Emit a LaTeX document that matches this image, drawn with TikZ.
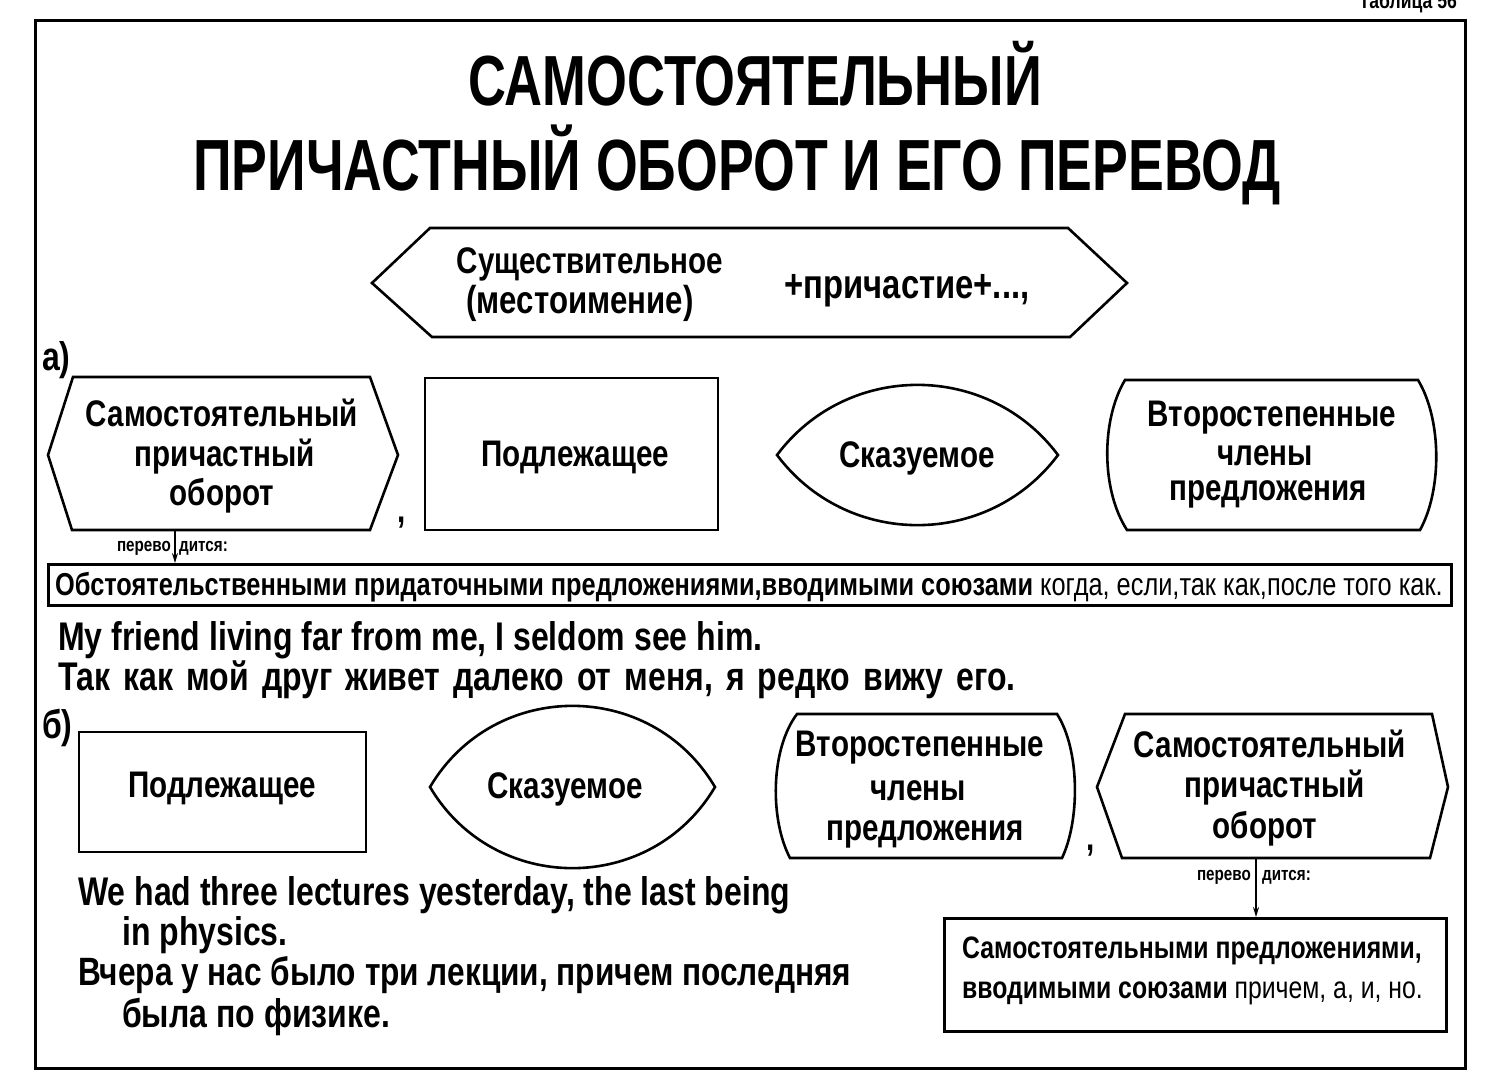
\documentclass[tikz,border=0pt]{standalone}
\usepackage{fontspec}
\setmainfont{Liberation Sans}[FakeStretch=0.8]
\newfontfamily\titlef{Liberation Sans}[FakeStretch=0.74]
\usetikzlibrary{arrows.meta}
\begin{document}
\begin{tikzpicture}[x=1pt,y=-1pt,
  shp/.style={line width=2.6pt, line join=miter},
  lbl/.style={anchor=base, inner sep=0pt, font=\fontsize{37}{40}\selectfont\bfseries},
  ex/.style={anchor=base west, inner sep=0pt, font=\fontsize{40}{42}\selectfont\bfseries},
  small/.style={anchor=base, inner sep=0pt, font=\fontsize{19}{20}\selectfont\bfseries},
  ttl/.style={anchor=base, inner sep=0pt, font=\fontsize{71}{72}\titlef\bfseries},
  boxt/.style={anchor=base west, inner sep=0pt, font=\fontsize{31.7}{34}\selectfont\bfseries},
  rboxt/.style={anchor=base west, inner sep=0pt, font=\fontsize{31}{33}\selectfont\bfseries},
  tr/.style={-{Stealth[length=10pt,width=6pt]}, line width=1.6pt}
]
\useasboundingbox (0,0) rectangle (1506,1082);
\fill[white] (0,0) rectangle (1506,1082);
% frame
\draw[line width=3pt] (35,20) rectangle (1465,1068);
\node[anchor=base, inner sep=0pt, font=\fontsize{22}{24}\selectfont\bfseries] (tab) at (1408,8) {Таблица 56};
% title
\node[ttl] (t1) at (755,105) {САМОСТОЯТЕЛЬНЫЙ};
\node[ttl, font=\fontsize{72.5}{74}\titlef\bfseries] (t2) at (737,190) {ПРИЧАСТНЫЙ ОБОРОТ И ЕГО ПЕРЕВОД};
% top formula
\draw[shp] (372,283) -- (430,228) -- (1068,228) -- (1127,283) -- (1070,337) -- (432,337) -- cycle;
\node[lbl] (f1) at (590,273) {Существительное};
\node[lbl, font=\fontsize{39}{40}\selectfont\bfseries] (f2) at (580,313) {(местоимение)};
\node[lbl, font=\fontsize{41}{42}\selectfont\bfseries] (f3) at (907,298) {+причастие+...,};
% a)
\node[anchor=base west, inner sep=0pt, font=\fontsize{40}{40}\selectfont\bfseries] (la) at (42,370) {а)};
% row a: hexagon
\draw[shp] (48,455) -- (73,377) -- (370,377) -- (398,455) -- (370,530) -- (72,530) -- cycle;
\node[lbl] (a1) at (222,426) {Самостоятельный};
\node[lbl] (a2) at (225,466) {причастный};
\node[lbl] (a3) at (222,505) {оборот};
\node[lbl] (ca) at (402,522) {,};
% row a: subject
\draw[shp] (425,378) rectangle (718,530);
\node[lbl] (a4) at (575,466) {Подлежащее};
% row a: predicate lens
\draw[shp] (777,455) .. controls (847,361.5) and (988,361.5) .. (1058,455) .. controls (988,548.5) and (847,548.5) .. (777,455) -- cycle;
\node[lbl] (a5) at (917,467) {Сказуемое};
% row a: secondary members
\draw[shp] (1125,380) -- (1418,380) .. controls (1442,420) and (1442,490) .. (1420,530) -- (1127,530) .. controls (1101,490) and (1101,420) .. (1125,380) -- cycle;
\node[lbl] (a6) at (1272,426) {Второстепенные};
\node[lbl] (a7) at (1265,465) {члены};
\node[lbl] (a8) at (1268,500) {предложения};
% translation a
\coordinate (pa) at (175,530);
\node[small, anchor=base east] (pa1) at (171,551) {перево};
\node[small, anchor=base west] (pa2) at (179,551) {дится:};
\node[draw, line width=2.5pt, minimum width=1403pt, minimum height=41pt, inner sep=0pt, anchor=north west] (lbox) at (47,563) {};
\node[boxt] (lt) at (55,595) {Обстоятельственными придаточными предложениями,вводимыми союзами {\mdseries когда, если,так как,после того как.}};
\draw[tr] (pa) -- (pa |- lbox.north);
% example a
\node[ex] (e1) at (58,650) {My friend living far from me, I seldom see him.};
\node[ex] (e2) at (58,690) {\spaceskip=13pt plus 2pt Так как мой друг живет далеко от меня, я редко вижу его.};
% b)
\node[anchor=base west, inner sep=0pt, font=\fontsize{40}{40}\selectfont\bfseries] (lb) at (42,738) {б)};
% row b: subject
\draw[shp] (79,732) rectangle (366,852);
\node[lbl] (b1) at (222,797) {Подлежащее};
% row b: predicate
\draw[shp] (430,787) .. controls (494,678.8) and (651,678.8) .. (715,787) .. controls (651,895.2) and (494,895.2) .. (430,787) -- cycle;
\node[lbl] (b2) at (565,798) {Сказуемое};
% row b: secondary members
\draw[shp] (797,714) -- (1057,714) .. controls (1080,750) and (1080,820) .. (1062,858) -- (790,858) .. controls (770,820) and (770,750) .. (797,714) -- cycle;
\node[lbl] (b3) at (920,756) {Второстепенные};
\node[lbl] (b4) at (918,800) {члены};
\node[lbl] (b5) at (925,840) {предложения};
\node[lbl] (cb) at (1091,850) {,};
% row b: hexagon
\draw[shp] (1097,787) -- (1125,714) -- (1432,714) -- (1448,787) -- (1430,858) -- (1122,858) -- cycle;
\node[lbl] (b6) at (1270,757) {Самостоятельный};
\node[lbl] (b7) at (1275,797) {причастный};
\node[lbl] (b8) at (1265,838) {оборот};
% translation b
\coordinate (pb) at (1256,858);
\node[small, anchor=base east] (pb1) at (1251,880) {перево};
\node[small, anchor=base west] (pb2) at (1262,880) {дится:};
\node[draw, line width=2.5pt, minimum width=502pt, minimum height=113pt, inner sep=0pt, anchor=north west] (rbox) at (943,917) {};
\node[rboxt] (r1) at (962,958) {Самостоятельными предложениями,};
\node[rboxt] (r2) at (962,998) {вводимыми союзами {\mdseries причем, а, и, но.}};
\draw[tr] (pb) -- (pb |- rbox.north);
% example b
\node[ex] (e3) at (78,905) {We had three lectures yesterday, the last being};
\node[ex] (e4) at (122,945) {in physics.};
\node[ex, font=\fontsize{39.5}{42}\selectfont\bfseries] (e5) at (78,985) {Вчера у нас было три лекции, причем последняя};
\node[ex] (e6) at (122,1027) {была по физике.};
\end{tikzpicture}
\end{document}
